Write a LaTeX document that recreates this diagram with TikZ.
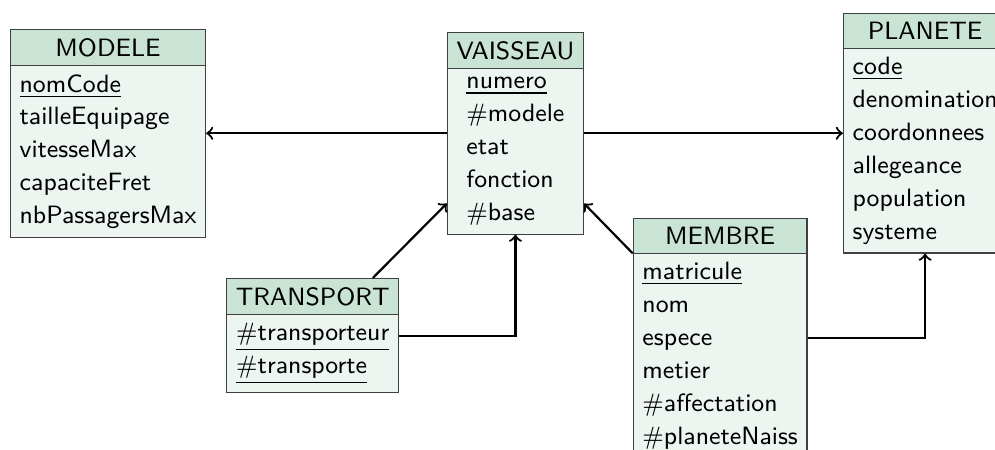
\documentclass[tikz,border=0pt]{standalone}
\usepackage{xcolor}
\usepackage{tikz}
\usetikzlibrary{shapes.multipart}
\definecolor{entete}{RGB}{201,227,212}
\definecolor{corps}{RGB}{237,245,240}

\begin{document}
\begin{tikzpicture}[font=\sffamily\fontsize{9.15}{12}\selectfont,
        table/.style={rectangle split, rectangle split parts=2,
          draw=black!75, rectangle split part fill={entete,corps},
          inner ysep=3pt, align=left, anchor=north west},
        lien/.style={->, thick}]
        \useasboundingbox (0,0) rectangle (12.76,-5.77);
        \node[table] (modele) at (0.128,-0.372) {MODELE
          \nodepart{two} \underline{nomCode}\\ tailleEquipage\\ vitesseMax\\
          capaciteFret\\ nbPassagersMax};
        \node[table] (vaisseau) at (5.73,-0.41) {VAISSEAU
          \nodepart{two} \underline{numero}\\ \#modele\\ etat\\ fonction\\ \#base};
        \node[table] (planete) at (10.81,-0.167) {PLANETE
          \nodepart{two} \underline{code}\\ denomination\\ coordonnees\\
          allegeance\\ population\\ systeme};
        \node[table] (transport) at (2.90,-3.565) {TRANSPORT
          \nodepart{two} \underline{\#transporteur}\\ \underline{\#transporte}};
        \node[table] (membre) at (8.115,-2.795) {MEMBRE
          \nodepart{two} \underline{matricule}\\ nom\\ espece\\ metier\\
          \#affectation\\ \#planeteNaiss};
        \draw[lien] (vaisseau.west) -- (vaisseau.west -| modele.east);
        \draw[lien] (vaisseau.east) -- (vaisseau.east -| planete.west);
        \draw[lien] ([xshift=0.77cm]transport.north) -- ([yshift=0.4cm]vaisseau.south west);
        \draw[lien] (transport.east) -| (vaisseau.south);
        \draw[lien] (membre.one split west) -- ([yshift=0.4cm]vaisseau.south east);
        \draw[lien] (membre.east) -| (planete.south);
    \end{tikzpicture}
\end{document}
